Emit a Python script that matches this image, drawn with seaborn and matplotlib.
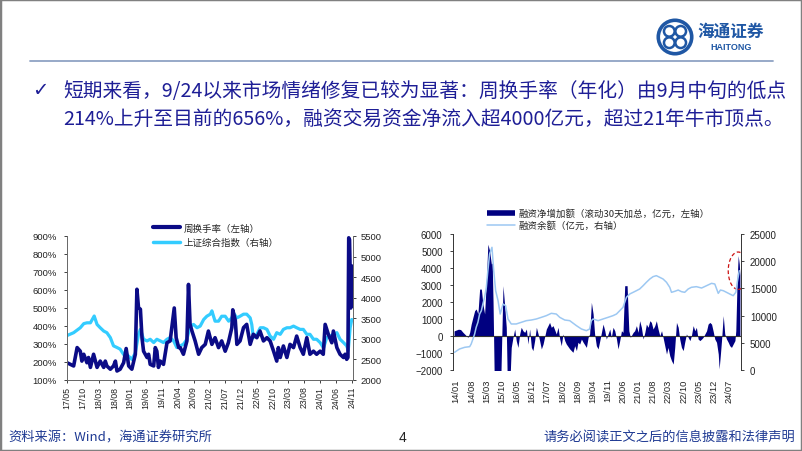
import matplotlib
matplotlib.use("Agg")
import matplotlib.pyplot as plt
import seaborn as sns
from matplotlib.lines import Line2D
from matplotlib.patches import Ellipse, Rectangle, Circle

# ---- left chart: weekly turnover (%) and Shanghai composite, x = months since 2017/05
left_ticks = ['17/05', '17/10', '18/03', '18/08', '19/01', '19/06', '19/11', '20/04', '20/09', '21/02',
              '21/07', '21/12', '22/05', '22/10', '23/03', '23/08', '24/01', '24/06', '24/11']
turn_m = [0, 1.05, 2.1, 3.2, 4.2, 4.7, 5.3, 6.3, 6.8, 7.4, 8.4, 9.5, 10.5, 11.6, 12.1, 12.6, 13.7, 14.7,
          15.3, 15.8, 16.8, 17.9, 18.7, 19.5, 20.5, 21.6, 22.1, 22.6, 23.2, 23.7, 24.2, 25.3, 25.8, 26.3,
          27.4, 27.9, 28.4, 28.9, 29.5, 30.5, 31.6, 32.6, 33.9, 34.5, 35.3, 35.8, 36.8, 37.9, 38.4, 38.9,
          39.5, 40.5, 41.6, 42.6, 43.7, 44.7, 45.8, 46.8, 47.9, 48.9, 50.0, 51.0, 52.1, 52.4, 53.2, 53.7,
          54.7, 55.8, 56.8, 57.9, 58.9, 60.0, 61.0, 62.1, 63.2, 64.2, 65.3, 66.3, 66.8, 67.4, 68.4, 69.5,
          70.5, 71.6, 72.6, 73.7, 74.7, 75.8, 76.8, 77.9, 78.9, 80.0, 81.0, 81.6, 82.6, 83.7, 84.2, 85.3,
          86.3, 87.4, 87.9, 88.4, 88.8, 89.05, 89.3, 89.5, 89.7, 89.9, 90.1, 90.3]
turn_pct = [196, 187, 178, 280, 260, 205, 243, 196, 225, 170, 243, 170, 205, 170, 205, 178, 160, 178,
            205, 150, 160, 196, 275, 178, 160, 243, 604, 502, 493, 335, 260, 225, 243, 187,
            178, 280, 260, 170, 205, 187, 307, 317, 500, 335, 280, 280, 243, 317, 631, 409,
            372, 317, 243, 280, 298, 372, 298, 335, 280, 317, 260, 307, 391, 490, 430, 298,
            317, 391, 409, 298, 354, 335, 372, 317, 335, 317, 260, 205, 280, 225, 289, 225,
            298, 280, 344, 280, 243, 335, 243, 260, 243, 260, 243, 409, 354, 307, 372, 280,
            243, 225, 243, 215, 225, 890, 880, 700, 500, 600, 733, 700]
idx_m = [0, 2.1, 4.2, 5.3, 6.3, 7.4, 8.6, 9.5, 10.5, 11.6, 12.6, 13.7, 14.7, 15.8, 16.8, 17.9, 18.9, 20.0,
         20.5, 21.6, 22.6, 23.2, 24.2, 25.3, 26.3, 27.4, 28.4, 29.5, 30.5, 31.6, 32.6, 33.7, 34.7, 35.8,
         36.8, 37.9, 38.9, 40.0, 41.1, 42.1, 43.2, 44.2, 45.3, 45.8, 46.8, 47.9, 48.9, 50.0, 51.1, 52.1,
         52.6, 53.7, 54.7, 55.8, 56.8, 57.9, 58.4, 58.9, 60.0, 61.1, 62.1, 63.2, 64.2, 65.3, 66.3, 67.4,
         68.4, 69.5, 70.5, 71.6, 72.6, 73.7, 74.7, 75.8, 76.8, 77.9, 78.9, 80.0, 81.1, 82.1, 83.2, 84.2,
         85.3, 86.3, 87.4, 88.4, 88.9, 89.5, 90.0]
idx_val = [3080, 3150, 3270, 3370, 3390, 3390, 3555, 3350, 3270, 3190, 3150, 3030, 2830, 2790, 2750, 2620,
           2620, 2540, 2500, 2660, 3110, 3230, 2990, 2950, 2990, 2910, 2990, 2950, 2910, 2990, 3030, 2950,
           2790, 2830, 2870, 2990, 3310, 3350, 3270, 3310, 3470, 3550, 3600, 3680, 3430, 3430, 3550, 3550,
           3430, 3510, 3630, 3510, 3550, 3600, 3600, 3510, 3350, 3030, 3110, 3270, 3270, 3230, 3070, 2990,
           3150, 3110, 3230, 3270, 3270, 3310, 3270, 3230, 3230, 3110, 3110, 2990, 2990, 2910, 2780, 3030,
           3070, 3110, 3150, 2990, 2910, 2830, 2720, 3270, 3470]

# ---- right chart: financing net increase (left) and financing balance (right), x = months since 2014/01
right_ticks = ['14/01', '14/08', '15/03', '15/10', '16/05', '16/12', '17/07', '18/02', '18/09', '19/04',
               '19/11', '20/06', '21/01', '21/08', '22/03', '22/10', '23/05', '23/12', '24/07']
net_m = [-1.0, 0.0, 1.0, 2.0, 3.1, 4.0, 4.6, 5.4, 6.2, 6.9, 7.7, 8.5, 9.2, 10.0, 10.8, 11.6, 12.3, 13.1,
         13.9, 14.6, 15.4, 16.2, 16.6, 17.0, 17.3, 17.6, 18.5, 19.5, 20.5, 21.0, 21.6, 22.3, 23.1, 23.4,
         23.6, 24.7, 25.4, 26.2, 27.0, 27.7, 28.5, 29.3, 30.0, 30.8, 31.6, 32.4, 33.1, 33.9, 34.7, 35.4,
         36.2, 37.0, 37.8, 38.5, 39.3, 40.1, 41.6, 43.1, 43.9, 44.7, 46.2, 47.0, 47.8, 48.5, 49.3, 50.1,
         50.8, 52.4, 53.9, 54.7, 55.5, 56.2, 57.0, 57.8, 58.6, 60.1, 60.9, 61.6, 62.4, 63.2, 63.9, 64.7,
         65.5, 66.3, 67.8, 68.6, 69.3, 70.9, 71.6, 72.4, 73.2, 74.0, 74.7, 75.5, 76.3, 77.0, 77.8, 78.9,
         79.7, 80.4, 81.7, 82.4, 83.2, 84.0, 84.7, 85.5, 86.3, 87.1, 87.8, 88.6, 89.4, 90.1, 90.9, 91.7,
         92.4, 93.2, 94.0, 94.8, 95.5, 96.3, 97.1, 97.8, 98.6, 99.4, 100.2, 100.9, 101.7, 102.5, 103.2,
         104.0, 104.8, 105.5, 106.3, 107.1, 107.9, 108.6, 109.4, 110.2, 110.9, 111.7, 112.5, 113.3, 114.0,
         115.6, 116.3, 117.1, 117.9, 118.6, 119.4, 120.2, 121.0, 121.4, 122.0, 122.5, 123.3, 124.0, 124.8,
         125.6, 126.3, 127.1, 127.9, 128.7, 129.1, 129.7, 130.2, 130.7, 131.0]
net_val = [300, 350, 400, 380, 215, 100, 20, -80, 215, 700, 1100, 1490, 1590, 1300, 2760, 2760, 1880, 1300,
           3250, 5400, 5020, 4240, 4300, 2000, -500, -3000, -3000, -3000, -3000, -200, 2960, 1880, 510, -1500,
           -3000, -3000, -670, -80, 410, -270, -670, 120, 510, 310, 215, 410, -470, 410, -670, -860,
           -270, 510, 120, -270, -760, -470, 410, 800, 510, 610, 120, 510, -180, -570, 120, -270,
           -470, -760, -960, -570, -860, -370, -470, -180, -370, -670, -80, 120, 1980, 1300, 120, -570,
           -760, -270, 700, 310, -180, 410, -80, 510, 310, -180, -760, -270, 310, 215, 2960, 2960,
           310, -80, 215, 310, 610, 215, 900, 510, -180, 215, 700, 510, 900, 800, 410, 610,
           900, 410, 20, 310, -80, -570, -1060, -670, -1160, -1450, -1650, -670, 800, 510, -180,
           -670, -860, -370, 120, -80, -270, 20, 610, 310, 510, -180, -270, -180, -80,
           310, 700, 800, 700, 310, -180, -370, -1060, -1940, -1060, -270, 1200, 120, -180,
           -370, -570, -670, -470, -270, 310, 3250, 4730, 4240, 3600]
bal_m = [-0.8, 1.5, 3.9, 6.2, 6.9, 7.7, 8.5, 9.2, 10.0, 10.8, 11.6, 12.3, 13.1, 13.9, 14.6, 15.4, 16.5, 17.3,
         18.2, 19.3, 20.3, 21.6, 22.8, 23.9, 25.4, 27.7, 30.0, 32.4, 34.7, 37.0, 39.3, 41.6, 43.9, 46.2,
         47.8, 50.1, 52.4, 55.5, 57.8, 60.1, 61.6, 62.4, 63.2, 65.5, 67.8, 70.1, 72.4, 74.0, 75.5, 77.0,
         78.6, 80.1, 81.7, 83.2, 84.7, 86.3, 87.8, 89.4, 90.9, 92.4, 94.0, 95.5, 97.1, 98.6, 99.4, 100.9,
         102.5, 104.0, 105.5, 107.1, 108.6, 110.9, 113.3, 115.6, 117.9, 119.4, 121.0, 122.0, 123.3, 124.8,
         126.3, 127.9, 129.1, 129.9, 130.7]
bal_val = [3250, 3860, 4170, 4290, 4780, 5700, 6620, 7840, 8760, 10290, 10900, 12130, 13360, 15200, 18260,
           21320, 22550, 18260, 14580, 12750, 10290, 12130, 11830, 9380, 8460, 8460, 8760, 9070, 9190, 9380,
           9680, 9990, 10420, 10290, 9680, 9190, 9070, 8150, 7540, 7230, 7540, 9070, 9380, 9070, 9380, 9680,
           9990, 10290, 10900, 11520, 13360, 13970, 14280, 14580, 14890, 15500, 16120, 16730, 17160, 17340,
           17030, 16730, 16120, 15200, 14280, 14460, 14700, 14400, 14280, 14890, 15200, 15320, 15070, 15500,
           15930, 15810, 14090, 14700, 14580, 14280, 13970, 13660, 14280, 16420, 18260]

NAVY = '#0B0B86'
SKY = '#33CCFF'
PALE = '#9DC8F2'
TXT = '#1E1E96'
CJK = ['Noto Sans CJK SC', 'DejaVu Sans']

sns.set_style("ticks")
plt.rcParams['font.family'] = ['Liberation Sans', 'Noto Sans CJK SC', 'DejaVu Sans']
plt.rcParams['axes.edgecolor'] = '#666666'
plt.rcParams['axes.linewidth'] = 0.7

W, H = 802, 452
fig = plt.figure(figsize=(W / 100, H / 100), dpi=100)


def fx(x):
    return x / W


def fy(y):
    return 1 - y / H


# slide frame, header line, logo
fig.add_artist(Rectangle((0, 0), 1, 1, transform=fig.transFigure, fill=False, edgecolor='#808080', lw=2.5))
fig.add_artist(Line2D([fx(30), fx(773)], [fy(62), fy(62)], transform=fig.transFigure, color='#8FA3C4', lw=1.3))
lg = fig.add_axes([fx(656), fy(57), fx(38), 38 / H])
lg.set_xlim(-1, 1)
lg.set_ylim(-1, 1)
lg.set_aspect('equal')
lg.axis('off')
lg.add_patch(Circle((0, 0), 0.88, fill=False, ec='#1F57A4', lw=2.6))
for cx, cy in [(-0.3, 0.3), (0.3, 0.3), (-0.3, -0.3), (0.3, -0.3)]:
    lg.add_patch(Circle((cx, cy), 0.28, fill=False, ec='#1F57A4', lw=1.8))
fig.text(fx(731), fy(32), '海通证券', family=CJK, fontsize=12, color='#1F57A4', ha='center', va='center',
         fontweight='bold', style='italic')
fig.text(fx(731), fy(48), 'HAITONG', fontsize=6.5, color='#1F57A4', ha='center', va='center', fontweight='bold')

# headline text
fig.text(fx(40), fy(91), '✓', family=['DejaVu Sans'], fontsize=14, color=TXT, ha='center', va='center')
fig.text(fx(63), fy(91), '短期来看，9/24以来市场情绪修复已较为显著：周换手率（年化）由9月中旬的低点',
         family=CJK, fontsize=14.2, color=TXT, ha='left', va='center')
fig.text(fx(63), fy(120), '214%上升至目前的656%，融资交易资金净流入超4000亿元，超过21年牛市顶点。',
         family=CJK, fontsize=14.2, color=TXT, ha='left', va='center')

# footer
fig.text(fx(8), fy(438), '资料来源：Wind，海通证券研究所', family=CJK, fontsize=9.5, color='#1F3A93',
         ha='left', va='center')
fig.text(fx(403), fy(438), '4', fontsize=10, color='#222222', ha='center', va='center')
fig.text(fx(795), fy(438), '请务必阅读正文之后的信息披露和法律声明', family=CJK, fontsize=9.5, color='#1F3A93',
         ha='right', va='center')

# ---- left chart
ax1 = fig.add_axes([fx(67), fy(381), fx(286), 144 / H])
ax1b = ax1.twinx()
sns.lineplot(x=idx_m, y=idx_val, ax=ax1b, color=SKY, lw=2.3)
sns.lineplot(x=turn_m, y=turn_pct, ax=ax1, color=NAVY, lw=2.6)
ax1.set_zorder(ax1b.get_zorder() + 1)
ax1.patch.set_visible(False)

ax1.set_xlim(0, 90.4)
ax1.set_ylim(100, 900)
ax1b.set_ylim(2000, 5500)
ax1.set_yticks(range(100, 901, 100))
ax1.set_yticklabels([f'{v}%' for v in range(100, 901, 100)])
ax1b.set_yticks(range(2000, 5501, 500))
ax1.set_xticks(range(0, 91, 5))
ax1.set_xticklabels(left_ticks, rotation=90)
ax1.set_xlabel('')
ax1.set_ylabel('')
ax1b.set_ylabel('')
ax1.spines['top'].set_visible(False)
ax1.spines['right'].set_visible(False)
for s in ['top', 'left', 'bottom']:
    ax1b.spines[s].set_visible(False)
ax1.tick_params(axis='y', length=2.5, width=0.6, pad=5, labelsize=6.8, colors='#222222')
ax1.tick_params(axis='x', length=2.5, width=0.6, pad=1.5, labelsize=6.3, colors='#222222')
ax1b.tick_params(axis='y', length=2.5, width=0.6, pad=3, labelsize=6.8, colors='#222222')

h1 = [Line2D([], [], color=NAVY, lw=3), Line2D([], [], color=SKY, lw=2.5)]
ax1.legend(h1, ['周换手率（左轴）', '上证综合指数（右轴）'], loc='center left', bbox_to_anchor=(0.30, 1.005),
           frameon=False, prop={'family': CJK, 'size': 6.8}, handlelength=2.9, handletextpad=0.35,
           labelspacing=0.55, borderpad=0, borderaxespad=0)

# ---- right chart
ax2 = fig.add_axes([fx(453), fy(371), fx(288), 136 / H])
ax2b = ax2.twinx()
ax2.fill_between(net_m, 0, net_val, color='#000080', lw=0)
sns.lineplot(x=bal_m, y=bal_val, ax=ax2b, color=PALE, lw=1.1)
ax2.axhline(0, color='#333333', lw=0.8)
ax2.add_patch(Ellipse((130.2, 3840), 9.2, 2200, fill=False, ec='#CC1111', ls=(0, (3, 2)), lw=0.9, zorder=5))

ax2.set_xlim(-1.5, 131.5)
ax2.set_ylim(-2000, 6000)
ax2b.set_ylim(0, 25000)
ax2.set_yticks(range(-2000, 6001, 1000))
ax2b.set_yticks(range(0, 25001, 5000))
ax2.set_xticks(range(0, 127, 7))
ax2.set_xticklabels(right_ticks, rotation=90)
ax2.set_xlabel('')
ax2.set_ylabel('')
ax2b.set_ylabel('')
for s in ['top', 'bottom']:
    ax2.spines[s].set_visible(False)
    ax2b.spines[s].set_visible(False)
ax2.spines['right'].set_visible(False)
ax2b.spines['left'].set_visible(False)
ax2.spines['left'].set_color('#333333')
ax2b.spines['right'].set_color('#333333')
ax2.tick_params(axis='y', length=2.5, width=0.6, pad=5, labelsize=7, colors='#222222')
ax2.tick_params(axis='x', length=0, pad=6, labelsize=6.7, colors='#222222')
ax2b.tick_params(axis='y', length=2.5, width=0.6, pad=4, labelsize=7, colors='#222222')

h2 = [Line2D([], [], color='#000080', lw=4, solid_capstyle='butt'), Line2D([], [], color=PALE, lw=1.1)]
ax2b.legend(h2, ['融资净增加额（滚动30天加总，亿元，左轴）', '融资余额（亿元，右轴）'], loc='center left',
            bbox_to_anchor=(0.118, 1.11), frameon=False, prop={'family': CJK, 'size': 6.8},
            handlelength=3.0, handletextpad=0.3, labelspacing=0.25, borderpad=0, borderaxespad=0)

fig.savefig('out.png', dpi=100)
